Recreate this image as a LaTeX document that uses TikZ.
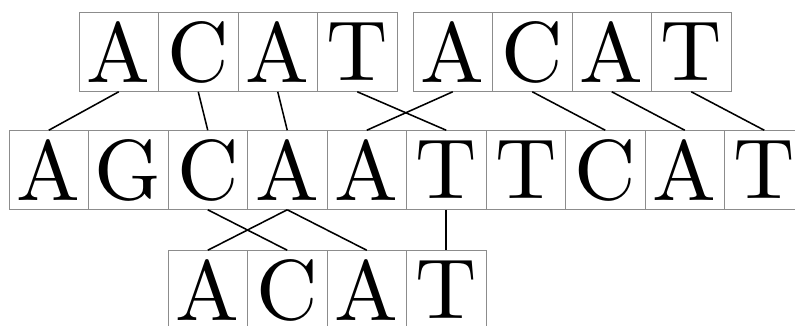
\documentclass[tikz,border=0pt]{standalone}
\usepackage{graphicx}
\newcommand{\bigletter}[1]{\scalebox{6.05}{#1}}
\begin{document}
\begin{tikzpicture}[x=0.025cm,y=-0.025cm,
  cell/.style={draw=black!45,line width=0.55pt,minimum size=1.9875cm,inner sep=0pt,outer sep=0pt,font=\normalsize},
  link/.style={line width=1.1pt}]
\useasboundingbox (0,0) rectangle (795,325);
% top row
\foreach \l [count=\i from 0] in {A,C,A,T} \node[cell] (ta\i) at (118.75+79.5*\i,52) {\bigletter{\l}};
\foreach \l [count=\i from 0] in {A,C,A,T} \node[cell] (tb\i) at (452.75+79.5*\i,52) {\bigletter{\l}};
% middle row
\foreach \l [count=\i from 0] in {A,G,C,A,A,T,T,C,A,T} \node[cell] (m\i) at (48.75+79.5*\i,170) {\bigletter{\l}};
% bottom row
\foreach \l [count=\i from 0] in {A,C,A,T} \node[cell] (b\i) at (207.75+79.5*\i,290) {\bigletter{\l}};
% links top -> middle
\draw[link] (ta0.south) -- (m0.north);
\draw[link] (ta1.south) -- (m2.north);
\draw[link] (ta2.south) -- (m3.north);
\draw[link] (ta3.south) -- (m5.north);
\draw[link] (tb0.south) -- (m4.north);
\draw[link] (tb1.south) -- (m7.north);
\draw[link] (tb2.south) -- (m8.north);
\draw[link] (tb3.south) -- (m9.north);
% links middle -> bottom
\draw[link] (m2.south) -- (b1.north);
\draw[link] (m3.south) -- (b0.north);
\draw[link] (m3.south) -- (b2.north);
\draw[link] (m5.south) -- (b3.north);
\end{tikzpicture}
\end{document}
